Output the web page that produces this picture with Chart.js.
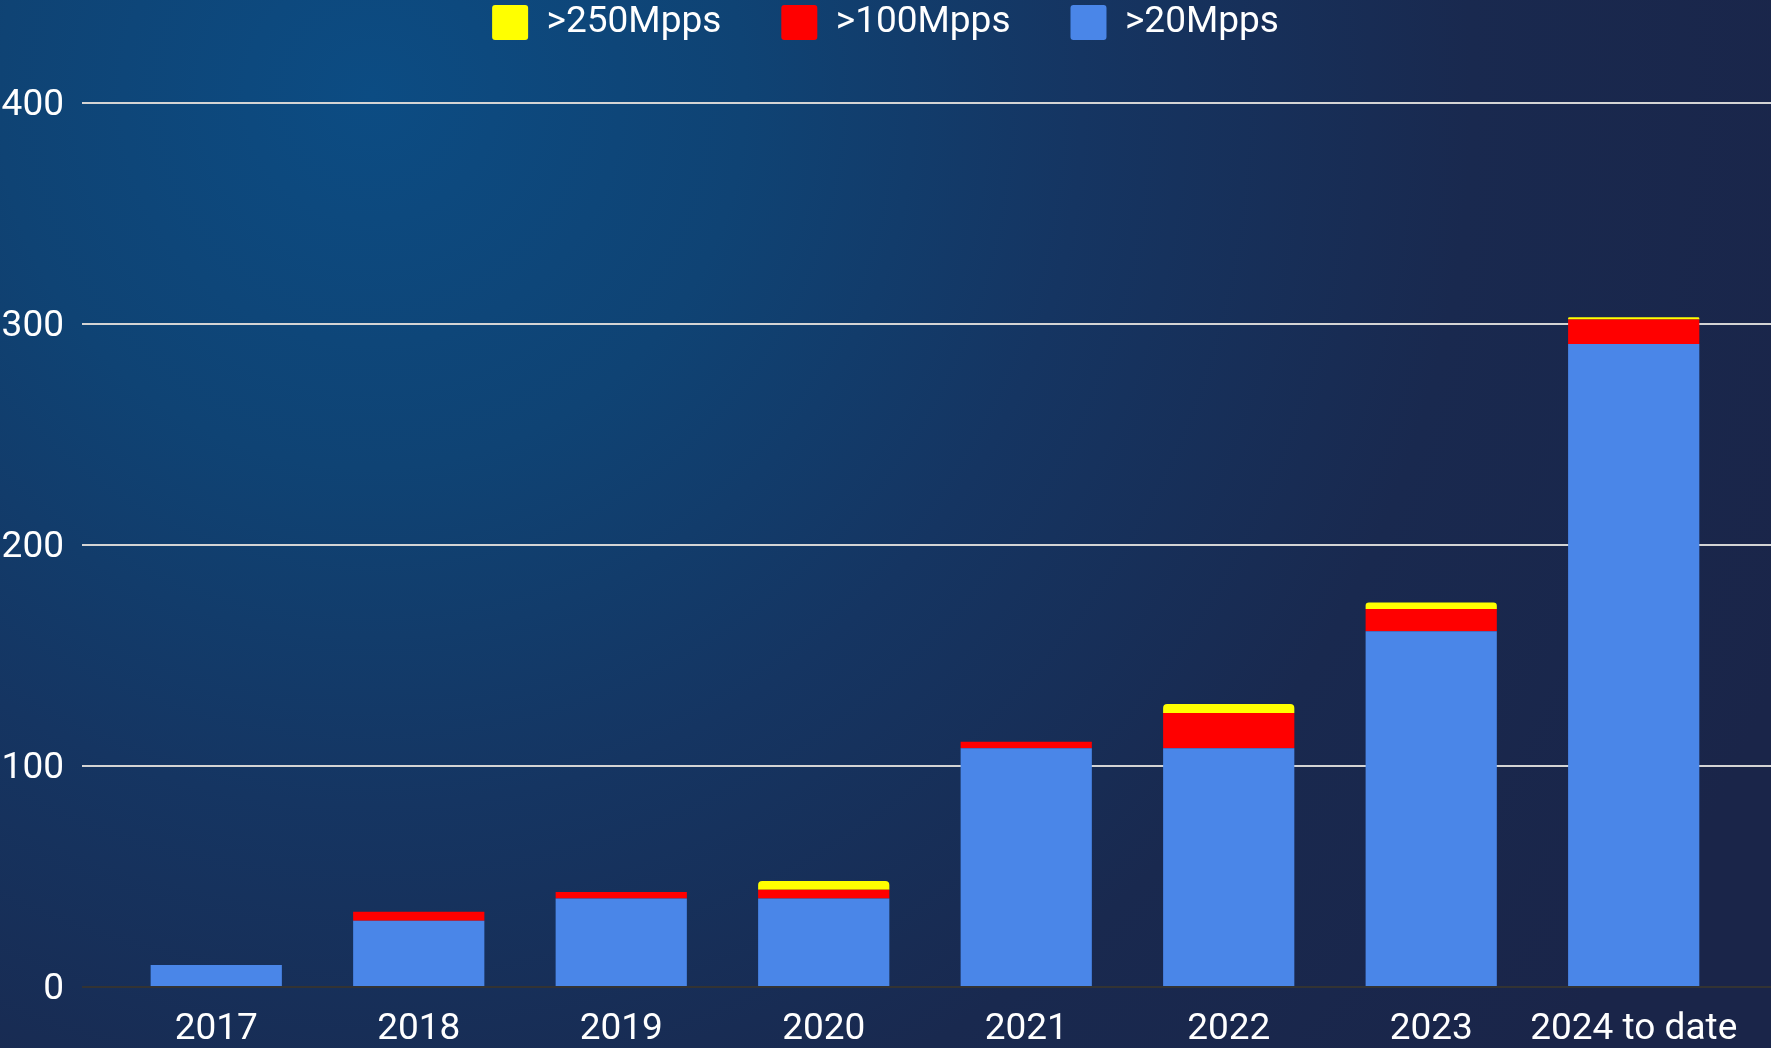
<!DOCTYPE html>
<html>
<head>
<meta charset="utf-8">
<title>Mpps attacks by year</title>
<script src="https://cdn.jsdelivr.net/npm/chart.js@4.4.1/dist/chart.umd.min.js"></script>
<style>
    html, body {
        margin: 0;
        padding: 0;
        width: 1771px;
        height: 1048px;
        overflow: hidden;
        background: radial-gradient(circle at 21% 9%, #0c4c83 0%, #0f4374 22%, #153562 42%, #19294f 65%, #1a2549 90%);
    }
    #wrap {
        position: relative;
        width: 1771px;
        height: 1048px;
    }
</style>
</head>
<body>
<div id="wrap"><canvas id="attackChart"></canvas></div>
<script>
// Chart data
var categories = ['2017', '2018', '2019', '2020', '2021', '2022', '2023', '2024 to date'];
var over20 = [10, 30, 40, 40, 108, 108, 161, 291];
var over100 = [0, 4, 3, 4, 3, 16, 10, 11];
var over250 = [0, 0, 0, 4, 0, 4, 3, 1];
var yTicks = [0, 100, 200, 300, 400];

function toPoints(values) {
    return values.map(function(v, i) {
        return { x: i, y: v };
    });
}

// Push the plot area down below the legend
var legendSpace = {
    id: 'legendSpace',
    beforeInit: function(chart) {
        var fit = chart.legend.fit;
        chart.legend.fit = function() {
            fit.bind(chart.legend)();
            this.height = 159;
        };
    }
};

var fontFamily = 'Roboto, "Liberation Sans", Arial, sans-serif';

new Chart(document.getElementById('attackChart'), {
    type: 'bar',
    data: {
        datasets: [{
            label: '>20Mpps',
            data: toPoints(over20),
            backgroundColor: '#4a86e8',
            borderWidth: 0
        }, {
            label: '>100Mpps',
            data: toPoints(over100),
            backgroundColor: '#ff0000',
            borderWidth: 0
        }, {
            label: '>250Mpps',
            data: toPoints(over250),
            backgroundColor: '#ffff00',
            borderWidth: 0,
            borderRadius: { topLeft: 4, topRight: 4 },
            borderSkipped: 'start'
        }]
    },
    options: {
        responsive: true,
        maintainAspectRatio: false,
        animation: false,
        categoryPercentage: 0.8,
        barPercentage: 0.81,
        layout: {
            padding: { top: -56, left: 0, right: 0, bottom: 0 }
        },
        plugins: {
            legend: {
                position: 'top',
                reverse: true,
                labels: {
                    color: '#ffffff',
                    boxWidth: 36,
                    boxHeight: 35,
                    padding: 60,
                    useBorderRadius: true,
                    borderRadius: 3,
                    font: { family: fontFamily, size: 37 }
                }
            },
            tooltip: { enabled: false }
        },
        scales: {
            x: {
                type: 'linear',
                stacked: true,
                offset: false,
                min: -0.663,
                max: 7.678,
                afterBuildTicks: function(scale) {
                    scale.ticks = categories.map(function(c, i) {
                        return { value: i };
                    });
                },
                afterFit: function(scale) {
                    scale.height = 61;
                },
                grid: { display: false, drawTicks: false, offset: false },
                border: { display: false },
                ticks: {
                    color: '#ffffff',
                    padding: 21,
                    autoSkip: false,
                    maxRotation: 0,
                    font: { family: fontFamily, size: 37 },
                    callback: function(value) {
                        return categories[value] || '';
                    }
                }
            },
            y: {
                stacked: true,
                min: 0,
                max: 400,
                afterBuildTicks: function(scale) {
                    scale.ticks = yTicks.map(function(v) {
                        return { value: v };
                    });
                },
                afterFit: function(scale) {
                    scale.width = 82;
                },
                grid: {
                    drawTicks: false,
                    lineWidth: 2,
                    color: function(ctx) {
                        return ctx.tick && ctx.tick.value === 0 ? '#333333' : '#d4d4d4';
                    }
                },
                border: { display: false },
                ticks: {
                    color: '#ffffff',
                    padding: 18,
                    labelOffset: 3,
                    font: { family: fontFamily, size: 37 }
                }
            }
        }
    },
    plugins: [legendSpace]
});
</script>
</body>
</html>
